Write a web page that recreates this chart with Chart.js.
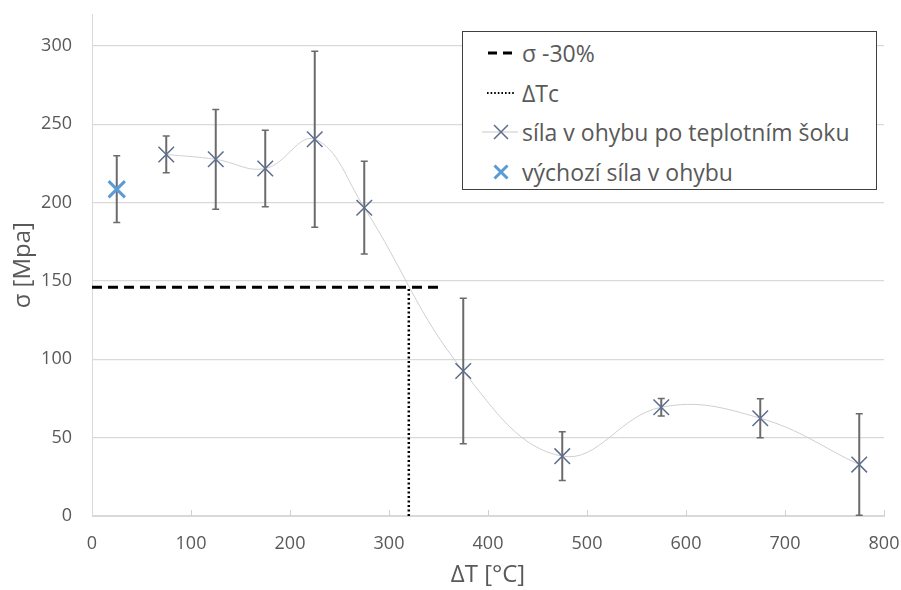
<!DOCTYPE html>
<html>
<head>
<meta charset="utf-8">
<script src="https://cdn.jsdelivr.net/npm/chart.js@4.4.0/dist/chart.umd.min.js"></script>
<style>
  html, body { margin: 0; padding: 0; background: #fff; }
  #wrap { position: relative; width: 901px; height: 590px; }
  #legend {
    position: absolute; left: 462px; top: 31px; width: 413px; height: 157px;
    border: 1.5px solid #404040; background: #fff;
    font-family: "Open Sans", sans-serif; font-size: 23px; color: #595959;
  }
  .row { position: absolute; left: 0; height: 30px; width: 100%; }
  .row svg { position: absolute; left: 16px; top: 0; }
  .row span { position: absolute; left: 59px; top: 0; line-height: 30px; white-space: nowrap; }
</style>
</head>
<body>
<div id="wrap">
  <canvas id="c" width="901" height="590"></canvas>
  <div id="legend"></div>
</div>
<script>
// ---- data ----
const shockT = [75, 125, 175, 225, 275, 375, 475, 575, 675, 775];
const shockSigma = [230.7, 227.6, 221.7, 240.4, 196.7, 92.5, 38.2, 69.4, 62.4, 32.8];
const shockErr = [11.7, 31.8, 24.4, 56.2, 29.6, 46.4, 15.6, 5.6, 12.4, 32.4];
const initT = [25];
const initSigma = [208.5];
const initErr = [21.3];
const limitSigma = 146;      // σ -30 %
const limitTEnd = 351;
const criticalT = 320;       // ΔTc
const xTicks = [0, 100, 200, 300, 400, 500, 600, 700, 800];
const yTicks = [0, 50, 100, 150, 200, 250, 300];
const legendLabels = ["σ -30%", "ΔTc", "síla v ohybu po teplotním šoku", "výchozí síla v ohybu"];
const xTitle = "ΔT [°C]";
const yTitle = "σ [Mpa]";

const shockPoints = shockT.map((t, i) => ({x: t, y: shockSigma[i]}));
const initPoints = initT.map((t, i) => ({x: t, y: initSigma[i]}));

const errorBarPlugin = {
  id: 'errorBars',
  beforeDatasetsDraw(chart) {
    const {ctx, scales: {x, y}} = chart;
    ctx.save();
    ctx.strokeStyle = '#6b6b6b';
    const draw = (ts, vs, es) => {
      ts.forEach((t, i) => {
        const px = x.getPixelForValue(t);
        const top = y.getPixelForValue(vs[i] + es[i]);
        const bot = y.getPixelForValue(vs[i] - es[i]);
        ctx.lineWidth = 2;
        ctx.beginPath(); ctx.moveTo(px, top); ctx.lineTo(px, bot); ctx.stroke();
        ctx.lineWidth = 1.5;
        ctx.beginPath();
        ctx.moveTo(px - 3.5, top); ctx.lineTo(px + 3.5, top);
        ctx.moveTo(px - 3.5, bot); ctx.lineTo(px + 3.5, bot);
        ctx.stroke();
      });
    };
    draw(initT, initSigma, initErr);
    draw(shockT, shockSigma, shockErr);
    ctx.restore();
  },
  afterDraw(chart) {
    // inner tick marks on the x axis
    const {ctx, scales: {x, y}} = chart;
    const base = y.getPixelForValue(0);
    ctx.save();
    ctx.strokeStyle = '#d0d0d0';
    ctx.lineWidth = 1;
    ctx.beginPath();
    xTicks.slice(1).forEach(v => {
      const px = Math.round(x.getPixelForValue(v)) + 0.5;
      ctx.moveTo(px, base); ctx.lineTo(px, base - 6);
    });
    ctx.stroke();
    ctx.restore();
  }
};

new Chart(document.getElementById('c'), {
  type: 'scatter',
  data: {
    datasets: [
      {
        label: legendLabels[0],
        data: [{x: 0, y: limitSigma}, {x: limitTEnd, y: limitSigma}],
        showLine: true, borderColor: '#000', borderWidth: 3, borderDash: [10, 6],
        pointRadius: 0, order: 1
      },
      {
        label: legendLabels[1],
        data: [{x: criticalT, y: 0}, {x: criticalT, y: limitSigma}],
        showLine: true, borderColor: '#000', borderWidth: 2.5, borderDash: [2, 2.5],
        pointRadius: 0, order: 1
      },
      {
        label: legendLabels[2],
        data: shockPoints,
        showLine: true, tension: 0.4, borderColor: '#cfcfcf', borderWidth: 1,
        pointStyle: 'crossRot', pointRadius: 11, pointBorderColor: '#5d6d8e',
        pointBorderWidth: 1.5, order: 2
      },
      {
        label: legendLabels[3],
        data: initPoints,
        showLine: false,
        pointStyle: 'crossRot', pointRadius: 11.5, pointBorderColor: '#5b9bd5',
        pointBorderWidth: 3, order: 0
      }
    ]
  },
  options: {
    responsive: false,
    animation: false,
    devicePixelRatio: 1,
    layout: { padding: { top: 8, right: 17, left: 0, bottom: 0 } },
    plugins: { legend: { display: false }, tooltip: { enabled: false } },
    scales: {
      x: {
        type: 'linear', min: 0, max: 800,
        afterBuildTicks: s => { s.ticks = xTicks.map(v => ({value: v})); },
        afterFit: s => { s.height = 74; },
        grid: { display: true, drawOnChartArea: false, drawTicks: true, tickLength: 17, tickColor: 'rgba(0,0,0,0)' },
        border: { display: true, color: '#d9d9d9', width: 1 },
        ticks: { padding: 0, color: '#595959', font: { family: 'Open Sans', size: 18 }, maxRotation: 0 },
        title: { display: true, text: xTitle, color: '#595959', padding: 0,
                 font: { family: 'Open Sans', size: 24 } }
      },
      y: {
        type: 'linear', min: 0, max: 320,
        afterBuildTicks: s => { s.ticks = yTicks.map(v => ({value: v})); },
        afterFit: s => { s.width = 92; s.paddingTop = 0; },
        grid: { color: '#d9d9d9', lineWidth: 1.3, drawTicks: true, tickLength: 20, tickColor: 'rgba(0,0,0,0)' },
        border: { display: true, color: '#d9d9d9', width: 1 },
        ticks: { padding: 0, color: '#595959', font: { family: 'Open Sans', size: 18, lineHeight: 1 } },
        title: { display: true, text: yTitle, color: '#595959', padding: { top: 9, bottom: 0 },
                 font: { family: 'Open Sans', size: 24 } }
      }
    }
  },
  plugins: [errorBarPlugin]
});

// ---- HTML legend ----
const svgs = [
  '<svg width="40" height="30"><line x1="9" y1="15" x2="36" y2="15" stroke="#000" stroke-width="3" stroke-dasharray="9,6"/></svg>',
  '<svg width="40" height="30"><line x1="8" y1="15" x2="36" y2="15" stroke="#000" stroke-width="2" stroke-dasharray="1.6,2"/></svg>',
  '<svg width="40" height="30"><line x1="3" y1="15" x2="39" y2="15" stroke="#c8c8c8" stroke-width="1"/><path d="M15 8 L29 22 M29 8 L15 22" stroke="#5d6d8e" stroke-width="1.5"/></svg>',
  '<svg width="40" height="30"><path d="M15.5 8.5 L28.5 21.5 M28.5 8.5 L15.5 21.5" stroke="#5b9bd5" stroke-width="3"/></svg>'
];
const rowTops = [6, 46, 85, 125];
const leg = document.getElementById('legend');
legendLabels.forEach((lab, i) => {
  const r = document.createElement('div');
  r.className = 'row';
  r.style.top = rowTops[i] + 'px';
  r.innerHTML = svgs[i] + '<span></span>';
  r.querySelector('span').textContent = lab;
  leg.appendChild(r);
});
</script>
</body>
</html>
